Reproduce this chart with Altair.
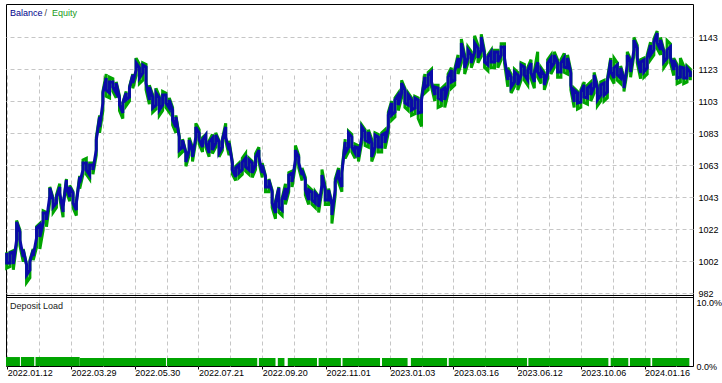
import altair as alt
import pandas as pd

# ---- Balance (blue) band per deal step: upper / lower values ----
blue_hi = [1007.5,1007.5,1008.1,1027.0,1020.7,1009.4,1000.0,1001.9,1009.4,1023.2,
1025.1,1032.7,1032.7,1048.4,1040.8,1042.7,1049.0,1036.4,1053.4,1049.0,
1045.2,1038.9,1055.3,1064.1,1064.1,1062.8,1062.8,1078.5,1093.0,1108.1,
1117.5,1115.0,1115.0,1114.3,1104.9,1101.8,1108.1,1111.2,1119.4,1126.9,
1123.8,1125.7,1124.4,1111.8,1105.5,1108.1,1104.9,1106.8,1106.8,1103.7,
1097.4,1093.0,1080.4,1078.5,1070.4,1078.5,1072.2,1086.7,1082.9,1078.5,
1081.7,1077.3,1079.8,1081.7,1077.3,1078.5,1086.7,1076.6,1064.1,1060.9,
1062.8,1064.7,1067.2,1066.0,1064.1,1067.8,1072.2,1062.8,1055.3,1053.4,
1045.8,1038.9,1048.4,1040.8,1048.4,1056.5,1057.8,1072.2,1067.8,1059.7,
1053.4,1047.1,1045.8,1045.2,1042.7,1056.5,1047.1,1047.1,1037.7,1052.1,
1059.7,1057.8,1077.3,1082.9,1080.4,1074.1,1073.5,1086.7,1083.6,1083.6,
1076.6,1081.7,1080.4,1081.7,1082.9,1094.2,1101.8,1103.7,1106.8,1114.3,
1109.9,1106.8,1103.7,1104.9,1103.7,1103.7,1118.1,1119.4,1121.3,1111.8,
1111.2,1109.9,1111.2,1118.1,1122.5,1121.3,1130.1,1139.5,1130.1,1135.1,
1131.9,1139.5,1136.3,1143.2,1131.9,1130.7,1133.8,1133.8,1133.8,1137.0,
1137.0,1122.5,1118.1,1121.3,1119.4,1125.7,1124.4,1122.5,1126.9,1120.6,
1127.5,1122.5,1119.4,1126.9,1130.1,1131.9,1127.5,1126.9,1130.1,1130.1,
1120.6,1109.9,1108.1,1108.7,1113.1,1111.2,1113.1,1119.4,1111.2,1113.1,
1114.3,1115.0,1128.8,1123.8,1125.7,1123.8,1116.2,1131.9,1127.5,1141.4,
1136.3,1127.5,1128.8,1130.1,1138.2,1140.1,1145.8,1141.4,1133.8,1135.1,
1137.0,1128.8,1124.4,1124.4,1123.8,1123.8,1121.3]

blue_lo = [1001.2,1001.2,1000.6,1015.7,1015.7,1005.0,993.7,996.8,1005.6,1016.9,
1017.6,1026.4,1028.3,1043.3,1036.4,1038.9,1045.2,1033.3,1049.6,1042.7,
1038.9,1034.5,1051.5,1059.7,1059.7,1056.5,1059.7,1072.2,1086.7,1101.8,
1109.9,1108.1,1111.8,1108.1,1100.5,1095.5,1103.7,1105.5,1114.3,1122.5,
1117.5,1120.6,1114.3,1103.7,1098.6,1100.5,1097.4,1100.5,1101.8,1098.6,
1091.1,1086.7,1072.2,1074.1,1064.7,1072.2,1067.8,1080.4,1078.5,1074.1,
1076.6,1070.4,1072.2,1076.6,1070.4,1074.1,1080.4,1072.2,1059.7,1055.3,
1057.8,1059.7,1061.6,1059.7,1057.8,1062.8,1067.8,1057.8,1049.0,1049.0,
1038.9,1032.7,1036.4,1034.5,1040.8,1049.0,1052.1,1066.0,1064.1,1056.5,
1047.1,1040.8,1040.8,1038.9,1036.4,1050.2,1040.8,1040.8,1031.4,1047.1,
1055.3,1049.0,1070.4,1074.1,1074.1,1070.4,1067.8,1080.4,1078.5,1077.3,
1067.8,1074.1,1074.1,1074.1,1076.6,1086.7,1094.2,1096.1,1100.5,1108.1,
1101.8,1100.5,1097.4,1098.6,1095.5,1096.1,1111.2,1113.1,1115.0,1106.8,
1104.9,1103.7,1103.7,1111.8,1115.0,1116.2,1123.8,1130.7,1123.8,1130.1,
1126.9,1133.8,1130.1,1135.1,1127.5,1125.7,1127.5,1127.5,1127.5,1131.9,
1130.1,1116.2,1111.8,1115.0,1113.1,1119.4,1119.4,1116.2,1120.6,1115.0,
1121.3,1117.5,1113.1,1120.6,1123.8,1126.9,1121.3,1121.3,1124.4,1123.8,
1113.1,1102.4,1101.8,1102.4,1105.5,1104.9,1106.8,1111.8,1103.7,1106.8,
1106.8,1108.7,1121.3,1117.5,1119.4,1117.5,1111.2,1125.7,1121.3,1135.1,
1130.1,1120.6,1121.3,1123.8,1131.9,1135.1,1139.5,1135.1,1127.5,1130.1,
1130.7,1122.5,1117.5,1118.1,1117.5,1117.5,1118.1]

# ---- Equity (green) band per deal step ----
green_hi = [1008,1008,1009,1028,1022,1010,1000,1003,1010,1024,
1026,1034,1033,1049,1042,1044,1051,1037,1054,1050,
1046,1040,1056,1066,1067,1064,1064,1080,1094,1109,
1120,1118,1117,1115,1106,1102,1109,1112,1120,1130,
1126,1127,1126,1113,1107,1111,1106,1109,1108,1105,
1099,1094,1081,1079,1071,1080,1074,1089,1085,1080,
1082,1078,1082,1083,1078,1079,1089,1078,1065,1062,
1064,1067,1070,1067,1065,1070,1074,1064,1056,1054,
1047,1040,1049,1042,1051,1058,1059,1075,1069,1061,
1055,1049,1047,1046,1043,1060,1049,1048,1039,1054,
1061,1059,1079,1084,1082,1076,1075,1088,1085,1085,
1079,1083,1082,1083,1085,1096,1103,1105,1108,1116,
1111,1108,1105,1106,1105,1105,1120,1121,1123,1113,
1113,1111,1113,1120,1124,1123,1132,1142,1132,1137,
1134,1144,1138,1145,1134,1132,1135,1135,1135,1139,
1139,1124,1120,1123,1121,1127,1126,1124,1129,1122,
1134,1124,1121,1129,1132,1134,1129,1129,1133,1132,
1122,1111,1109,1110,1115,1113,1115,1121,1113,1115,
1116,1117,1130,1130,1127,1125,1118,1134,1129,1143,
1138,1129,1130,1132,1140,1142,1147,1143,1135,1141,
1139,1130,1126,1130,1125,1125,1123]

green_lo = [998,999,997,1013,1012,1002,989,992,1003,1011,
1010,1022,1024,1040,1033,1036,1042,1030,1046,1040,
1036,1031,1048,1057,1057,1054,1057,1069,1083,1097,
1106,1105,1109,1105,1097,1092,1100,1103,1111,1119,
1114,1116,1110,1101,1096,1098,1094,1097,1099,1096,
1088,1083,1069,1071,1062,1069,1065,1078,1076,1071,
1074,1068,1070,1074,1068,1072,1078,1069,1057,1053,
1055,1057,1059,1057,1055,1060,1065,1055,1046,1046,
1036,1029,1033,1031,1038,1046,1049,1063,1061,1053,
1044,1038,1038,1036,1033,1047,1038,1038,1026,1044,
1052,1046,1067,1071,1071,1067,1065,1077,1075,1074,
1065,1071,1071,1071,1073,1083,1091,1093,1097,1105,
1099,1097,1094,1095,1092,1087,1108,1110,1112,1103,
1099,1100,1099,1108,1111,1113,1120,1127,1120,1127,
1124,1130,1127,1131,1124,1122,1124,1124,1124,1129,
1127,1112,1108,1112,1110,1116,1116,1113,1117,1111,
1118,1114,1110,1117,1120,1124,1118,1118,1121,1120,
1110,1099,1098,1099,1102,1101,1103,1108,1100,1103,
1103,1105,1118,1114,1116,1114,1109,1122,1118,1132,
1127,1117,1118,1120,1129,1132,1136,1132,1124,1127,
1127,1119,1114,1115,1114,1115,1116]

# ---- Deposit load segments (deal-step start, end, load %) ----
load_start = [-0.2, 4.3, 8.7, 22.0, 48.3, 76.0, 81.7, 84.7, 94.0, 101.2,
              113.1, 121.8, 133.2, 157.2, 182.0, 187.8, 194.5]
load_end = [4.0, 8.3, 22.0, 48.0, 75.5, 81.0, 83.7, 93.5, 100.7, 112.5,
            120.8, 132.7, 156.8, 181.3, 187.3, 194.0, 205.7]
load_pct = [1.4, 1.4, 1.4, 1.25, 1.25, 1.25, 1.25, 1.25, 1.25, 1.25,
            1.25, 1.25, 1.25, 1.25, 1.25, 1.25, 1.25]

# ---- Axis ticks / labels ----
y_ticks = [982.2, 1002.3, 1022.4, 1042.55, 1062.65, 1082.8, 1102.9, 1123.0, 1143.1]
date_ticks = [0.2, 9.8, 19.4, 29.0, 38.6, 48.2, 57.8, 67.4, 77.0, 86.6, 96.2,
              105.8, 115.4, 125.0, 134.6, 144.2, 153.8, 163.4, 173.0, 182.6, 192.2, 201.8]
date_labels = ["2022.01.12", "2022.03.29", "2022.05.30", "2022.07.21", "2022.09.20",
               "2022.11.01", "2023.01.03", "2023.03.16", "2023.06.12", "2023.10.06",
               "2024.01.16"]
pct_ticks = [0, 10]

BLUE = "#0a0aa8"
GREEN = "#00a400"
GRID = "#c6c6c6"
FONT = "Liberation Sans"


def zigzag(hi, lo):
    rows = []
    for k, (h, l) in enumerate(zip(hi, lo)):
        a, b = (h, l) if k % 2 == 0 else (l, h)
        rows.append({"i": k, "v": a, "s": 2 * k})
        rows.append({"i": k, "v": b, "s": 2 * k + 1})
    return pd.DataFrame(rows)


blue_df = zigzag(blue_hi, blue_lo)
green_df = zigzag(green_hi, green_lo)
load_df = pd.DataFrame({"i": load_start, "i2": load_end, "p": load_pct})

all_labels = []
for j in range(len(date_ticks)):
    all_labels.append(date_labels[j // 2] if j % 2 == 0 and j // 2 < len(date_labels) else "")
label_js = "[" + ",".join("'%s'" % s for s in all_labels) + "]"

X = alt.X(
    "i:Q",
    scale=alt.Scale(domain=[-0.2, 206.8], nice=False, zero=False),
    axis=alt.Axis(
        values=date_ticks,
        labelExpr=label_js + "[round((datum.value - 0.2) / 9.6)]",
        grid=True, gridDash=[4, 3], gridColor=GRID, gridWidth=1,
        tickSize=3, tickColor="#000000",
        tickOpacity={"condition": {"test": "round((datum.value - 0.2) / 9.6) % 2 == 0", "value": 1}, "value": 0},
        domain=False, labelAlign="left", labelBaseline="middle", labelPadding=3,
        labelOverlap=False, labelFlush=False, labelFontSize=9,
        labelColor="#000000", labelFont=FONT, title=None,
    ),
)

Ytop = alt.Y(
    "v:Q",
    scale=alt.Scale(domain=[981.1, 1164.0], range=[291, 0], nice=False, zero=False),
    axis=alt.Axis(
        orient="right", values=y_ticks, format=".0f",
        grid=True, gridDash=[4, 3], gridColor=GRID, gridWidth=1,
        ticks=False, domain=False, labelPadding=5, labelFontSize=9,
        labelColor="#000000", labelFont=FONT, title=None,
    ),
)

Ybot = alt.Y(
    "p:Q",
    scale=alt.Scale(domain=[0, 10], range=[362, 298], nice=False, zero=False),
    axis=alt.Axis(
        orient="right", values=pct_ticks,
        labelExpr="format(datum.value, '.1f') + '%'",
        grid=False, ticks=False, domain=False, labelPadding=3, labelFontSize=9,
        labelColor="#000000", labelFont=FONT, title=None,
    ),
)

green_line = alt.Chart(green_df).mark_line(color=GREEN, strokeWidth=3).encode(
    x=X, y=Ytop, order="s:Q")
blue_line = alt.Chart(blue_df).mark_line(color=BLUE, strokeWidth=3).encode(
    x=X, y=Ytop, order="s:Q")
top_sep = alt.Chart(pd.DataFrame({"v": [980.79]})).mark_rule(color="#000000", strokeWidth=1).encode(y=Ytop)

t_bal = alt.Chart(pd.DataFrame({"t": ["Balance"]})).mark_text(
    align="left", baseline="alphabetic", fontSize=9, font=FONT, color="#00008b").encode(
    text="t:N", x=alt.value(4), y=alt.value(11.5))
t_sl = alt.Chart(pd.DataFrame({"t": ["/"]})).mark_text(
    align="left", baseline="alphabetic", fontSize=9, font=FONT, color="#444444").encode(
    text="t:N", x=alt.value(38.5), y=alt.value(11.5))
t_eq = alt.Chart(pd.DataFrame({"t": ["Equity"]})).mark_text(
    align="left", baseline="alphabetic", fontSize=9, font=FONT, color="#1a9a1a").encode(
    text="t:N", x=alt.value(46), y=alt.value(11.5))

top_group = alt.layer(green_line, blue_line, top_sep, t_bal, t_sl, t_eq)

load_bars = alt.Chart(load_df).mark_rect(color=GREEN).encode(
    x=X, x2="i2:Q", y=Ybot, y2=alt.datum(0))
bot_sep = alt.Chart(pd.DataFrame({"p": [10.70]})).mark_rule(color="#000000", strokeWidth=1).encode(y=Ybot)
t_dep = alt.Chart(pd.DataFrame({"t": ["Deposit Load"]})).mark_text(
    align="left", baseline="alphabetic", fontSize=9, font=FONT, color="#1a1a1a").encode(
    text="t:N", x=alt.value(4), y=alt.value(304.5))

bottom_group = alt.layer(load_bars, bot_sep, t_dep)

chart = alt.layer(top_group, bottom_group).resolve_scale(y="independent").properties(
    width=722, height=383,
    autosize=alt.AutoSizeParams(type="fit", contains="padding"),
    padding={"left": 0, "top": 4, "right": 0, "bottom": 6},
    background="#ffffff",
).configure_view(stroke="#000000", strokeWidth=1)

chart.save("out.html", embed_options={"renderer": "svg", "actions": False})
